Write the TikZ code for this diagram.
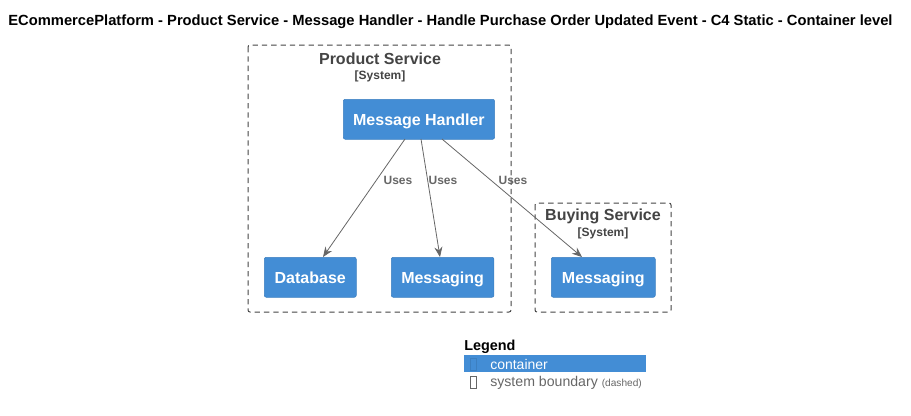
\documentclass[tikz,border=0pt]{standalone}
\usepackage{fontspec}
\setmainfont{Liberation Sans}
\usetikzlibrary{arrows.meta}
\definecolor{c4blue}{HTML}{438DD5}
\definecolor{c4border}{HTML}{3C7FC0}
\definecolor{bndgray}{HTML}{444444}
\definecolor{relgray}{HTML}{666666}
\tikzset{
  px/.style={x=0.75pt,y=-0.75pt},
  container/.style={draw=c4border, fill=c4blue, rounded corners=1.5pt, text=white,
    font=\fontsize{12}{14}\selectfont\bfseries, inner sep=0pt, anchor=north west},
  boundary/.style={draw=bndgray, dash pattern=on 4pt off 3pt, line width=0.75pt, rounded corners=1.5pt},
  btitle/.style={text=bndgray, font=\fontsize{12}{14}\selectfont\bfseries, inner sep=0pt},
  bsub/.style={text=bndgray, font=\fontsize{9}{11}\selectfont\bfseries, inner sep=0pt},
  rel/.style={draw=relgray, line width=0.6pt, -{Stealth[length=7.5pt,width=6pt]}},
  rellabel/.style={text=relgray, font=\fontsize{9}{11}\selectfont\bfseries, inner sep=0pt},
}
\begin{document}
\begin{tikzpicture}[px]
\useasboundingbox (0,0) rectangle (911,415);
\node[font=\fontsize{11.05}{13}\selectfont\bfseries, inner sep=0pt] (title) at (450.5,21.5) {ECommercePlatform - Product Service - Message Handler - Handle Purchase Order Updated Event - C4 Static - Container level};

% boundaries
\draw[boundary] (248,45) rectangle (511,312);
\node[btitle] (pstitle) at (380,59) {Product Service};
\node[bsub] (pssub) at (380,76) {[System]};
\draw[boundary] (535,203) rectangle (671,312);
\node[btitle] (bstitle) at (603,216) {Buying Service};
\node[bsub] (bssub) at (603,233) {[System]};

% containers
\node[container, minimum width=113.5pt, minimum height=30pt, text depth=0pt, text height=9pt] (mh) at (343,99) {Message Handler};
\node[container, minimum width=69pt, minimum height=30pt, text depth=0pt, text height=9pt] (db) at (264,257) {Database};
\node[container, minimum width=77pt, minimum height=30pt, text depth=0pt, text height=9pt] (pm) at (391,257) {Messaging};
\node[container, minimum width=78pt, minimum height=30pt, text depth=0pt, text height=9pt] (bm) at (551,257) {Messaging};

% relations
\coordinate (s1) at (405,139);
\coordinate (s2) at (421,139);
\coordinate (s3) at (442,139);
\coordinate (e1) at (323,257);
\coordinate (e2) at (440,257);
\coordinate (e3) at (582,257);
\draw[rel] (s1) -- (e1);
\draw[rel] (s2) -- (e2);
\draw[rel] (s3) -- (e3);
\node[rellabel] (l1) at (398,180) {Uses};
\node[rellabel] (l2) at (443,180) {Uses};
\node[rellabel] (l3) at (513,180) {Uses};

% legend
\node[font=\fontsize{10.8}{12}\selectfont\bfseries, inner sep=0pt, anchor=west] (leg) at (464,347) {Legend};
\fill[c4blue] (464,355) rectangle (646,372);
\node[draw=c4border, line width=0.4pt, minimum width=4.5pt, minimum height=9pt, inner sep=0pt] (gl1) at (473,364) {};
\node[text=white, font=\fontsize{10.5}{12}\selectfont, inner sep=0pt, anchor=west] (lc) at (490,364.5) {container};
\node[draw=relgray, line width=0.4pt, minimum width=4.5pt, minimum height=9pt, inner sep=0pt] (gl2) at (473,382) {};
\node[text=relgray, font=\fontsize{10.6}{12}\selectfont, inner sep=0pt, anchor=west] (ls) at (490,382.5) {system boundary \fontsize{7.6}{9}\selectfont(dashed)};
\end{tikzpicture}
\end{document}
